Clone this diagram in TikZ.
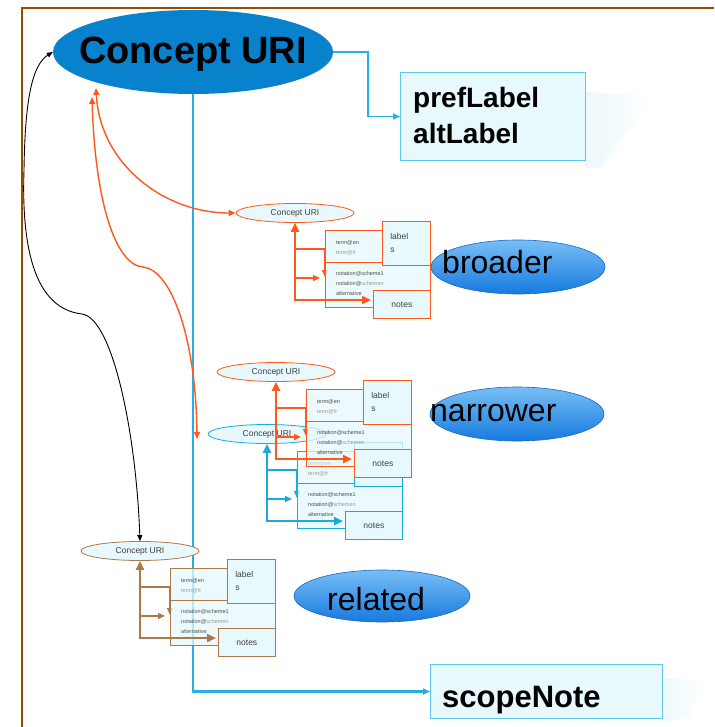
\documentclass[tikz,border=0pt]{standalone}
\usepackage{fontspec}
\setmainfont{Liberation Sans}
\usetikzlibrary{arrows.meta,shapes.geometric,calc}
\definecolor{framebrown}{RGB}{153,76,0}
\definecolor{mainblue}{RGB}{8,130,205}
\definecolor{linkblue}{RGB}{40,175,226}
\definecolor{boxfill}{RGB}{232,249,253}
\definecolor{boxline}{RGB}{95,200,235}
\definecolor{glow}{RGB}{236,249,253}
\definecolor{org}{RGB}{255,88,28}
\definecolor{cblue}{RGB}{25,170,225}
\definecolor{brn}{RGB}{172,122,74}
\definecolor{ovaltop}{RGB}{120,190,246}
\definecolor{ovalbot}{RGB}{22,122,222}
\definecolor{ovalline}{RGB}{25,105,195}
\tikzset{
  grpbox/.style={rectangle, anchor=north west, fill=boxfill, line width=0.7pt, inner sep=0pt},
  bigbox/.style={rectangle, anchor=north west, draw=boxline, fill=boxfill, line width=1pt, inner sep=0pt},
  tinytext/.style={anchor=west, inner sep=0pt, font=\fontsize{5.5}{6}\selectfont},
  smalltext/.style={font=\fontsize{8.5}{13}\selectfont, text=black!75},
  oval/.style={ellipse, draw=ovalline, top color=ovaltop, bottom color=ovalbot, line width=0.6pt, inner sep=0pt, minimum width=174pt, minimum height=54pt},
  ovaltext/.style={anchor=base west, inner sep=0pt, font=\fontsize{32}{34}\selectfont},
  tipS/.tip={Triangle[length=6pt,width=5pt]},
  tipM/.tip={Triangle[length=7pt,width=6pt]},
  tipL/.tip={Triangle[length=9pt,width=8pt]},
}
\newcommand\conceptgroup[4]{%
\begin{scope}[shift={(#2,#3)}]
  \coordinate (#1a) at (0,36);
  \coordinate (#1b) at (0,65);
  \coordinate (#1c) at (0,87);
  \draw[#4, line width=1.2pt, -tipM] (#1a) -- (30,36) -- (30,64);
  \node[grpbox, draw=#4, fill opacity=0.75, minimum width=105pt, minimum height=77pt] (#1g) at (30,17) {};
  \draw[#4, line width=0.5pt] (30,49) -- (135,49);
  \node[tinytext, text=black!70] (#1t1) at (41,30) {term@en};
  \node[tinytext, text=black!40] (#1t2) at (41,40) {term@fr};
  \node[tinytext, text=black!70] (#1t3) at (41,61) {notation@scheme1};
  \node[tinytext, text=black!70] (#1t4) at (41,71) {notation@\textcolor{black!40}{schemen}};
  \node[tinytext, text=black!70] (#1t5) at (41,81) {alternative};
  \node[grpbox, draw=#4, minimum width=48pt, minimum height=44pt, text width=32pt, align=left, smalltext] (#1l) at (87,8) {label\\s};
  \node[grpbox, draw=#4, minimum width=57pt, minimum height=28pt, smalltext] (#1n) at (78,77) {notes};
  \node[ellipse, draw=#4, fill=boxfill, line width=0.8pt, minimum width=118pt, minimum height=19pt, inner sep=0pt, font=\fontsize{8.5}{9}\selectfont, text=black!75] (#1e) at (0,0) {Concept URI};
  \draw[#4, line width=1.4pt, -tipM] (#1b) -- ++(25,0);
  \draw[#4, line width=2.6pt, tipL-tipL] (#1e.south) -- (#1c) -- ($(#1n.west |- #1c)+(-2,0)$);
\end{scope}}
\begin{document}
\begin{tikzpicture}[x=1pt,y=-1pt]
\useasboundingbox (0,0) rectangle (714,727);
\fill[white] (0,0) rectangle (714,727);
% frame
\draw[framebrown, line width=2.5pt] (714,8) -- (22,8) -- (22,727);

% soft shadows of the property boxes
\shade[left color=glow, right color=white] (585,92) -- (655,96) -- (600,168) -- (585,168) -- cycle;
\shade[left color=glow, right color=white] (662,678) -- (705,680) -- (690,718) -- (662,722) -- cycle;

% main concept
\node[ellipse, fill=mainblue, minimum width=280pt, minimum height=84pt, inner sep=0pt] (main) at (193,52) {};
\node[inner sep=0pt, font=\fontsize{38}{40}\selectfont\bfseries] (maint) at (193,54) {Concept URI};

% property boxes
\node[bigbox, minimum width=185pt, minimum height=88pt] (pref) at (400,72) {};
\node[anchor=north west, align=left, inner sep=0pt, font=\fontsize{28}{36}\selectfont\bfseries] (preft) at (413,87) {prefLabel\\altLabel};
\node[bigbox, minimum width=232pt, minimum height=54pt] (scope) at (430,664) {};
\node[anchor=base west, inner sep=0pt, font=\fontsize{31}{34}\selectfont\bfseries] (scopet) at (442,707) {scopeNote};

% blue connectors
\draw[linkblue, line width=1.5pt, -tipM] (main.east) -- ++(35,0) |- (pref.west);
\draw[linkblue, line width=2.2pt, -tipM] (main.south) |- (scope.west);

% relation ovals
\node[oval] (bro) at (518,267) {};
\node[ovaltext] (brot) at (442,273) {broader};
\node[oval] (nar) at (517,414) {};
\node[ovaltext] (nart) at (430,421) {narrower};
\node[oval, minimum width=176pt, minimum height=52pt] (rel) at (382,596) {};
\node[ovaltext] (relt) at (327,610) {related};

% concept groups
\conceptgroup{c1}{295}{213}{org}
\conceptgroup{c3}{267}{434}{cblue}
\conceptgroup{c2}{276}{372}{org}
\conceptgroup{c4}{140}{551}{brn}

% curved relations
\coordinate (tipB) at (96,88);
\coordinate (tipA) at (92,97);
\coordinate (tipN) at (197,439);
\draw[org, line width=1.4pt, tipM-tipM] (tipB) .. controls (100,165) and (165,213) .. (c1e.west);
\draw[org, line width=1.4pt, tipM-tipM] (tipA) .. controls (95,200) and (115,265) .. (143,267) .. controls (172,270) and (196,340) .. (tipN);
\draw[black, line width=0.9pt, tipS-tipS] (c4e.north) .. controls (136,430) and (112,318) .. (82,314) .. controls (28,308) and (22,230) .. (24,170) .. controls (25,100) and (32,65) .. (main.west);
\end{tikzpicture}
\end{document}
